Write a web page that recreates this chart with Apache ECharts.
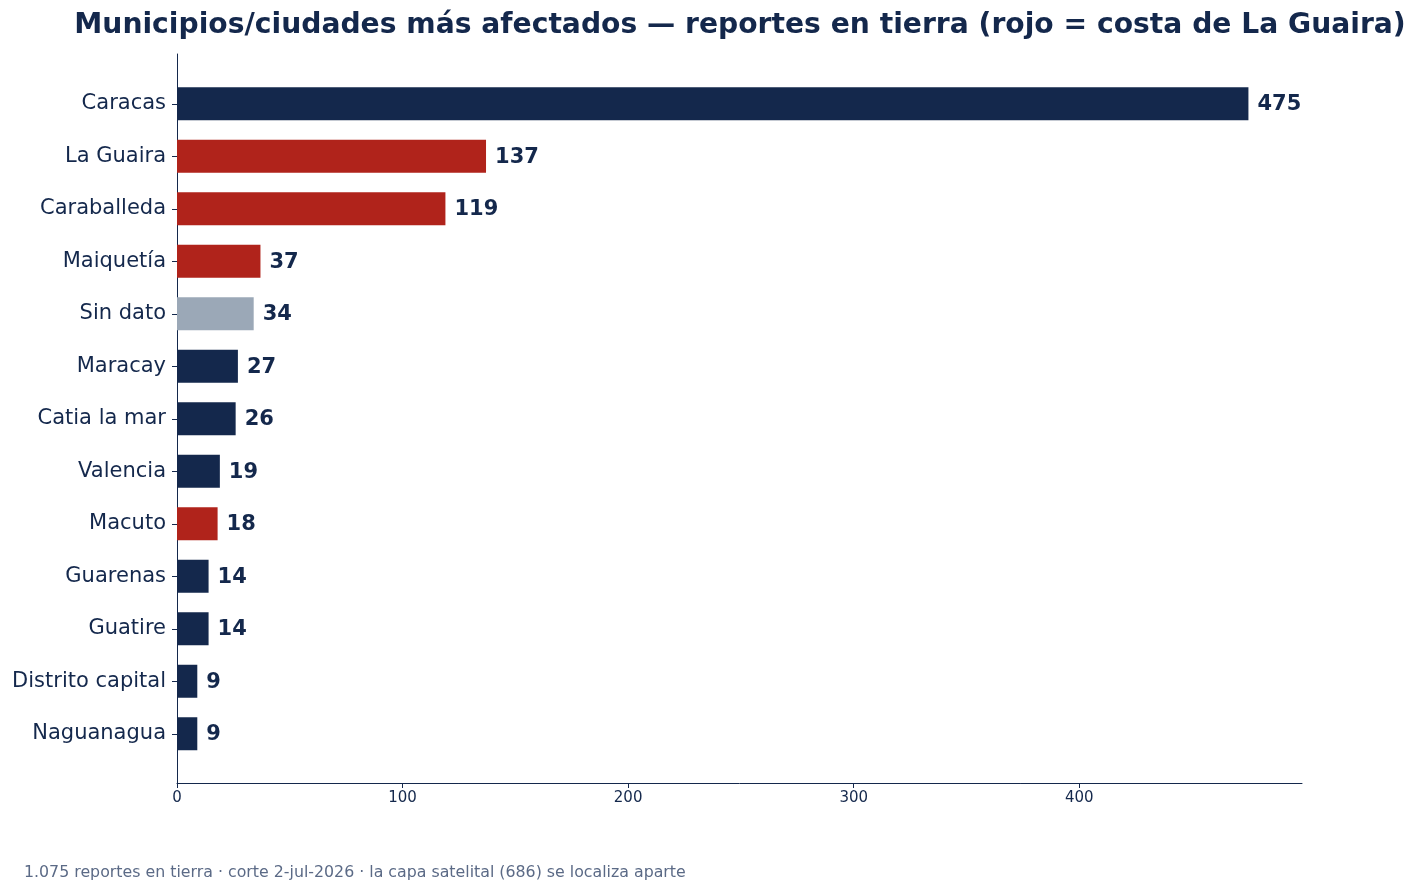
<!DOCTYPE html>
<html>
<head>
<meta charset="utf-8">
<script src="https://cdn.jsdelivr.net/npm/echarts@6/dist/echarts.min.js"></script>
<style>
  html, body { margin: 0; padding: 0; background: #fff; }
  #chart { width: 1415px; height: 892px; }
</style>
</head>
<body>
<div id="chart"></div>
<script>
// datos del grafico
var ciudades = ['Caracas', 'La Guaira', 'Caraballeda', 'Maiquetía', 'Sin dato', 'Maracay',
  'Catia la mar', 'Valencia', 'Macuto', 'Guarenas', 'Guatire', 'Distrito capital', 'Naguanagua'];
var reportes = [475, 137, 119, 37, 34, 27, 26, 19, 18, 14, 14, 9, 9];
// grupo: 'costa' = costa de La Guaira, 'sd' = sin dato, 'otro' = resto
var grupos = ['otro', 'costa', 'costa', 'costa', 'sd', 'otro', 'otro', 'otro', 'costa', 'otro', 'otro', 'otro', 'otro'];
var ticksX = [0, 100, 200, 300, 400];

var colores = { otro: '#14284c', costa: '#b0231b', sd: '#9ba8b7' };
var azul = '#14284c';
var xMax = 475 * 1.05;

var chart = echarts.init(document.getElementById('chart'));

var option = {
  animation: false,
  textStyle: { fontFamily: 'DejaVu Sans' },
  title: [{
    text: 'Municipios/ciudades más afectados — reportes en tierra (rojo = costa de La Guaira)',
    left: 735, top: 7, textAlign: 'center',
    textStyle: { fontSize: 28.2, fontWeight: 'bold', color: azul, fontFamily: 'DejaVu Sans' }
  }, {
    text: '1.075 reportes en tierra · corte 2-jul-2026 · la capa satelital (686) se localiza aparte',
    left: 19, top: 860,
    textStyle: { fontSize: 15.8, fontWeight: 'normal', color: '#5b6a86', fontFamily: 'DejaVu Sans' }
  }],
  grid: [
    // barras
    { left: 177, right: 113, top: 77.5, height: 682.5 },
    // marco de ejes
    { left: 177, right: 113, top: 54, height: 729 }
  ],
  xAxis: [{
    gridIndex: 0, type: 'value', min: 0, max: xMax, show: false
  }, {
    gridIndex: 1, type: 'value', min: 0, max: xMax,
    axisLine: { show: true, lineStyle: { color: azul, width: 1 } },
    axisTick: { show: true, length: 5, lineStyle: { color: azul }, customValues: ticksX },
    axisLabel: { fontSize: 15, color: azul, margin: 8, customValues: ticksX },
    splitLine: { show: false }
  }],
  yAxis: [{
    gridIndex: 0, type: 'category', data: ciudades, inverse: true,
    axisLine: { show: false },
    axisTick: { show: true, alignWithLabel: true, length: 5, lineStyle: { color: azul } },
    axisLabel: { fontSize: 21, color: azul, margin: 11, padding: [4, 0, 0, 0] }
  }, {
    gridIndex: 1, type: 'value', min: 0, max: 1,
    axisLine: { show: true, lineStyle: { color: azul, width: 1 } },
    axisTick: { show: false },
    axisLabel: { show: false },
    splitLine: { show: false }
  }],
  series: [{
    type: 'bar',
    xAxisIndex: 0, yAxisIndex: 0,
    barWidth: 33,
    data: reportes.map(function (v, i) {
      return { value: v, itemStyle: { color: colores[grupos[i]] } };
    }),
    label: {
      show: true, position: 'right', distance: 9, offset: [0, 1],
      fontSize: 21, fontWeight: 'bold', color: azul, fontFamily: 'DejaVu Sans'
    }
  }]
};

chart.setOption(option);
</script>
</body>
</html>
